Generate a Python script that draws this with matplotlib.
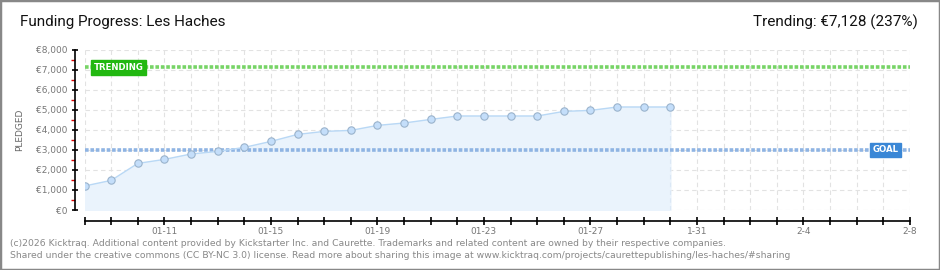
import matplotlib
matplotlib.use("Agg")
import matplotlib.pyplot as plt
from matplotlib.patches import Rectangle

# days since 01-08, pledged in EUR
days = list(range(23))
pledged = [1200, 1480, 2330, 2530, 2800, 2930, 3130, 3430, 3780, 3930, 3980, 4230,
           4350, 4530, 4700, 4700, 4700, 4700, 4930, 4980, 5150, 5150, 5150]
goal = 3000
trending = 7128
tick_days = list(range(32))
label_days = [3, 7, 11, 15, 19, 23, 27, 31]
label_text = ['01-11', '01-15', '01-19', '01-23', '01-27', '1-31', '2-4', '2-8']
y_ticks = list(range(0, 8001, 1000))
y_labels = ['€0', '€1,000', '€2,000', '€3,000', '€4,000', '€5,000', '€6,000', '€7,000', '€8,000']

fig = plt.figure(figsize=(9.4, 2.7), dpi=100)
ax = fig.add_axes([84.5 / 940, 60 / 270, 825.5 / 940, 160 / 270])
ax.set_xlim(0, 31)
ax.set_ylim(0, 8000)

ax.grid(True, color='#e2e2e2', linestyle=(0, (4, 3)), linewidth=0.8)
ax.set_axisbelow(True)
ax.set_xticks(tick_days)
ax.set_xticklabels([label_text[label_days.index(d)] if d in label_days else '' for d in tick_days])
ax.set_yticks(y_ticks)
ax.set_yticklabels(y_labels)
ax.set_yticks([v + 500 for v in y_ticks[:-1]], minor=True)

for s in ['top', 'right']:
    ax.spines[s].set_visible(False)
ax.spines['left'].set_position(('outward', 7))
ax.spines['bottom'].set_position(('outward', 8))
ax.spines['left'].set_linewidth(1.2)
ax.spines['bottom'].set_linewidth(1.2)
ax.tick_params(axis='x', direction='inout', length=6, width=1.2, colors='black',
               labelcolor='#777777', labelsize=6.5, pad=1)
ax.tick_params(axis='y', which='major', direction='inout', length=5, width=1.2,
               labelcolor='#777777', labelsize=6.5, pad=3)
ax.tick_params(axis='y', which='minor', direction='out', length=3, width=1, color='#e00000')

ax.fill_between(days, pledged, 0, color='#eaf3fc', zorder=1)
ax.plot([days[-1], days[-1]], [0, pledged[-1]], color='#dbe8f6', linestyle=(0, (4, 3)), linewidth=0.8, zorder=1)
ax.plot(days, pledged, color='#b9d8f5', linewidth=1, zorder=3)
ax.scatter(days, pledged, s=28, color='#c4defa', edgecolors='#9ab3cc', linewidths=0.8, zorder=4)

ax.axhline(goal, color='#8fb4e3', linestyle=(0, (1.0, 0.5)), linewidth=2.6, zorder=2)
ax.axhline(trending, color='#77d466', linestyle=(0, (1.0, 0.5)), linewidth=2.6, zorder=2)

ax.text(0.35, trending, 'TRENDING', color='white', fontsize=6.2, fontweight='bold', va='center', ha='left',
        zorder=5, bbox=dict(boxstyle='square,pad=0.3', fc='#22b811', ec='#22b811'))
ax.text(29.6, goal, 'GOAL', color='white', fontsize=6.2, fontweight='bold', va='center', ha='left',
        zorder=5, bbox=dict(boxstyle='square,pad=0.3', fc='#3a87d6', ec='#3a87d6'))

ax.set_ylabel('PLEDGED', color='#666666', fontsize=6.5, labelpad=8)

fig.text(20 / 940, 1 - 22 / 270, 'Funding Progress: Les Haches', fontsize=11,
         family='Roboto', va='center', ha='left', color='#111111')
fig.text(918 / 940, 1 - 22 / 270, 'Trending: €7,128 (237%)', fontsize=11,
         family='Roboto', va='center', ha='right', color='#111111')
fig.text(10 / 940, 1 - 243 / 270,
         '(c)2026 Kicktraq. Additional content provided by Kickstarter Inc. and Caurette. Trademarks and related content are owned by their respective companies.',
         fontsize=6.65, color='#888888', va='center', ha='left')
fig.text(10 / 940, 1 - 255 / 270,
         'Shared under the creative commons (CC BY-NC 3.0) license. Read more about sharing this image at www.kicktraq.com/projects/caurettepublishing/les-haches/#sharing',
         fontsize=6.65, color='#888888', va='center', ha='left')

fig.patches.append(Rectangle((0, 0), 1, 1, transform=fig.transFigure, fill=False,
                             edgecolor='#888888', linewidth=2.5))

fig.savefig('out.png', dpi=100)
